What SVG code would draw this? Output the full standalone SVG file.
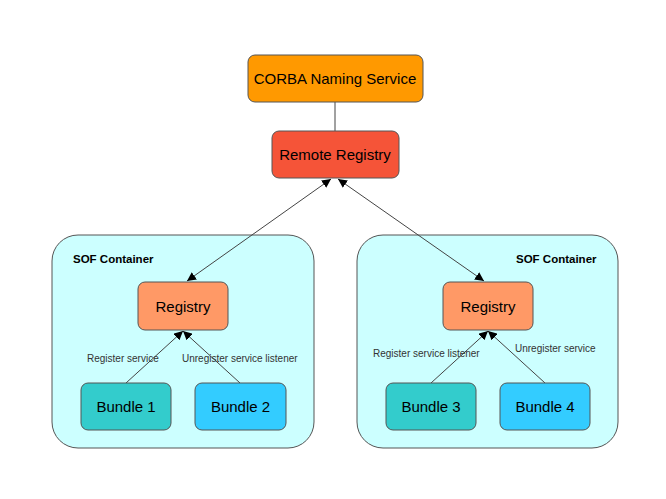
<svg xmlns="http://www.w3.org/2000/svg" width="666" height="499" viewBox="0 0 666 499">
<defs>
<style>
.box{stroke:#555;stroke-width:1}
.t{font-family:"Liberation Sans",Arial,sans-serif;font-size:15px;fill:#000;text-anchor:middle;dominant-baseline:central}
.h{font-family:"Liberation Sans",Arial,sans-serif;font-size:11.5px;font-weight:bold;fill:#000;dominant-baseline:central}
.l{font-family:"Liberation Sans",Arial,sans-serif;font-size:10px;fill:#333;dominant-baseline:central}
.c{stroke:#444;stroke-width:1;fill:none}
</style>
<marker id="ah" viewBox="0 0 10 10" refX="10" refY="5" markerWidth="9" markerHeight="9" markerUnits="userSpaceOnUse" orient="auto-start-reverse">
<path d="M0,0 L10,5 L0,10 z" fill="#000"/>
</marker>
</defs>
<rect width="666" height="499" fill="#fff"/>
<g id="container-left"><rect class="box" x="52" y="235" width="262" height="213" rx="26" fill="#ccffff"/><text class="h" x="73" y="259">SOF Container</text></g>
<g id="container-right"><rect class="box" x="357" y="235" width="261" height="213" rx="26" fill="#ccffff"/><text class="h" x="516" y="259">SOF Container</text></g>
<g id="connectors">
<line class="c" x1="335" y1="102" x2="335" y2="131"/>
<line class="c" x1="187" y1="281" x2="331" y2="179" marker-start="url(#ah)" marker-end="url(#ah)"/>
<line class="c" x1="484" y1="281" x2="338" y2="179" marker-start="url(#ah)" marker-end="url(#ah)"/>
<line class="c" x1="126" y1="383" x2="183" y2="331" marker-end="url(#ah)"/>
<line class="c" x1="240" y1="383" x2="183" y2="331" marker-end="url(#ah)"/>
<line class="c" x1="431" y1="383" x2="488" y2="331" marker-end="url(#ah)"/>
<line class="c" x1="545" y1="383" x2="488" y2="331" marker-end="url(#ah)"/>
<text class="l" x="87" y="358">Register service</text>
<text class="l" x="182" y="358">Unregister service listener</text>
<text class="l" x="373" y="353">Register service listener</text>
<text class="l" x="515" y="348">Unregister service</text>
</g>
<g id="corba"><rect class="box" x="248" y="55" width="175" height="47" rx="7" fill="#ff9900"/><text class="t" x="335" y="78.5">CORBA Naming Service</text></g>
<g id="remote-registry"><rect class="box" x="272" y="131" width="127" height="47" rx="7" fill="#f55438"/><text class="t" x="335" y="154.5">Remote Registry</text></g>
<g id="registry-left"><rect class="box" x="138" y="282" width="90" height="48" rx="7" fill="#ff9966"/><text class="t" x="183" y="306">Registry</text></g>
<g id="registry-right"><rect class="box" x="443" y="282" width="90" height="48" rx="7" fill="#ff9966"/><text class="t" x="488" y="306">Registry</text></g>
<g id="bundle1"><rect class="box" x="81" y="383" width="90" height="47" rx="7" fill="#33cccc"/><text class="t" x="126" y="406.5">Bundle 1</text></g>
<g id="bundle2"><rect class="box" x="195" y="383" width="91" height="47" rx="7" fill="#33ccff"/><text class="t" x="240.5" y="406.5">Bundle 2</text></g>
<g id="bundle3"><rect class="box" x="386" y="383" width="90" height="47" rx="7" fill="#33cccc"/><text class="t" x="431" y="406.5">Bundle 3</text></g>
<g id="bundle4"><rect class="box" x="500" y="383" width="90" height="47" rx="7" fill="#33ccff"/><text class="t" x="545" y="406.5">Bundle 4</text></g>
</svg>
